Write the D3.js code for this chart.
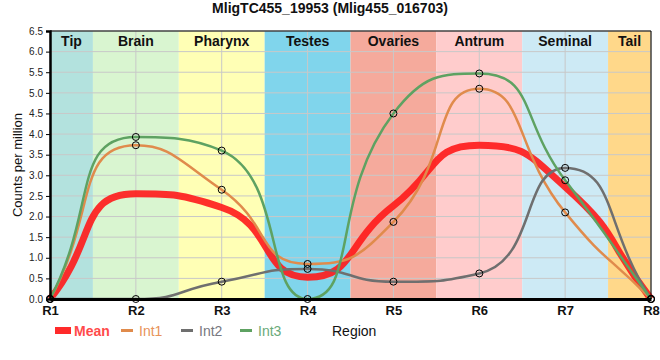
<!DOCTYPE html>
<html><head><meta charset="utf-8">
<script src="https://cdn.jsdelivr.net/npm/d3@7"></script>
<style>body{margin:0;background:#fff}</style>
</head><body>
<svg id="c" width="660" height="360"></svg>
<script>
const title = "MligTC455_19953 (Mlig455_016703)";
const regions = ["R1","R2","R3","R4","R5","R6","R7","R8"];
const bandNames = ["Tip","Brain","Pharynx","Testes","Ovaries","Antrum","Seminal","Tail"];
const bandColors = ["#b3e2de","#d9f5d0","#ffffb5","#80d5ec","#f5aa9c","#ffcccc","#cdeaf5","#ffd88a"];
const meanVals = [0, 2.55, 2.22, 0.53, 2.26, 3.73, 2.72, 0];
const int1Vals = [0, 3.73, 2.65, 0.85, 1.87, 5.10, 2.10, 0];
const int2Vals = [0, 0.0, 0.42, 0.73, 0.42, 0.62, 3.18, 0];
const int3Vals = [0, 3.93, 3.60, 0.0, 4.50, 5.47, 2.88, 0];
const yTicks = [0,0.5,1,1.5,2,2.5,3,3.5,4,4.5,5,5.5,6,6.5];

const series = [
  {name:"Int1", vals:int1Vals, color:"#e08b4c", lw:2.5, text:"#e8935a"},
  {name:"Int2", vals:int2Vals, color:"#6f6f6f", lw:2.5, text:"#77777f"},
  {name:"Int3", vals:int3Vals, color:"#5ea262", lw:2.5, text:"#6aaa7a"},
];

const svg = d3.select("#c");
const W=660,H=360, L=50, R=651, T=31, B=299;
const NARROW = "'Liberation Sans Narrow','Arial Narrow',sans-serif";
const x = d3.scalePoint().domain(regions).range([L,R]);
const step = x.step();
const y = d3.scaleLinear().domain([0,6.5]).range([B,T]);

// tension spline (pixel-space, distance-weighted) with flat tangents at extrema
function tensionCurve(context){
  let pts;
  const tension = 0.55;
  const cap = (v,a,b)=>Math.max(a,Math.min(b,v));
  return {
    areaStart(){}, areaEnd(){},
    lineStart(){ pts=[]; },
    point(px,py){ pts.push([px,py]); },
    lineEnd(){
      const n = pts.length; if(!n) return;
      const cps = pts.map((p,i)=>{
        const prev = pts[Math.max(0,i-1)], next = pts[Math.min(n-1,i+1)];
        const d01 = Math.hypot(p[0]-prev[0], p[1]-prev[1]);
        const d12 = Math.hypot(next[0]-p[0], next[1]-p[1]);
        let s01 = d01/(d01+d12), s12 = d12/(d01+d12);
        if(isNaN(s01)) s01=0; if(isNaN(s12)) s12=0;
        const fa = tension*s01, fb = tension*s12;
        const ddx = next[0]-prev[0];
        let ddy = next[1]-prev[1];
        if(i>0 && i<n-1){
          if((p[1]-prev[1])*(next[1]-p[1]) <= 0) ddy = 0;
          else {
            let k = 1;
            const pyC = p[1]-fa*ddy, nyC = p[1]+fb*ddy;
            if((pyC-prev[1])*(p[1]-prev[1]) < 0) k = Math.min(k, (prev[1]-p[1])/(pyC-p[1]));
            if((nyC-next[1])*(p[1]-next[1]) < 0) k = Math.min(k, (next[1]-p[1])/(nyC-p[1]));
            ddy *= k;
          }
        }
        return {
          px: cap(p[0]-fa*ddx,L,R), py: cap(p[1]-fa*ddy,T,B),
          nx: cap(p[0]+fb*ddx,L,R), ny: cap(p[1]+fb*ddy,T,B)
        };
      });
      context.moveTo(pts[0][0],pts[0][1]);
      for(let i=1;i<n;i++){
        context.bezierCurveTo(cps[i-1].nx,cps[i-1].ny,cps[i].px,cps[i].py,pts[i][0],pts[i][1]);
      }
    }
  };
}

const bandEdges = (i)=>[Math.max(L, x(regions[i]) - step/2), Math.min(R, x(regions[i]) + step/2)];
bandNames.forEach((b,i)=>{
  const [left,right] = bandEdges(i);
  svg.append("rect").attr("x",left).attr("y",T).attr("width",right-left).attr("height",B-T).attr("fill",bandColors[i]);
});
svg.append("g").selectAll("line").data(yTicks).join("line")
  .attr("x1",L).attr("x2",R).attr("y1",d=>y(d)).attr("y2",d=>y(d))
  .attr("stroke","#c8c8c8").attr("stroke-width",1);
svg.append("g").selectAll("line").data(regions).join("line")
  .attr("x1",d=>x(d)).attr("x2",d=>x(d)).attr("y1",T).attr("y2",B)
  .attr("stroke","#c8c8c8").attr("stroke-width",1);

svg.append("g").selectAll("text").data(bandNames).join("text")
  .attr("x",(d,i)=>{const e=bandEdges(i);return (e[0]+e[1])/2;}).attr("y",T+15)
  .attr("text-anchor","middle").attr("font-family",NARROW).attr("font-weight","bold")
  .attr("font-size",14).attr("fill","#111").text(d=>d);

const line = d3.line().x((d,i)=>x(regions[i])).y(d=>y(d)).curve(tensionCurve);

svg.append("path").attr("d",line(meanVals)).attr("fill","none")
  .attr("stroke","#ff1a1a").attr("stroke-opacity",0.9).attr("stroke-width",7);
series.forEach(s=>{
  svg.append("path").attr("d",line(s.vals)).attr("fill","none")
    .attr("stroke",s.color).attr("stroke-width",s.lw);
});
series.forEach(s=>{
  svg.append("g").selectAll("circle").data(s.vals).join("circle")
    .attr("cx",(d,i)=>x(regions[i])).attr("cy",d=>y(d)).attr("r",3.5)
    .attr("fill","none").attr("stroke","#000").attr("stroke-width",1);
});

svg.append("line").attr("x1",L).attr("x2",R).attr("y1",T).attr("y2",T).attr("stroke","#000").attr("stroke-width",1);
svg.append("line").attr("x1",R).attr("x2",R).attr("y1",T).attr("y2",B).attr("stroke","#000").attr("stroke-width",1);

const yAxis = d3.axisLeft(y).tickValues(yTicks).tickFormat(d3.format(".1f")).tickSize(4);
const gy = svg.append("g").attr("transform",`translate(${L},0)`).call(yAxis);
gy.select(".domain").attr("stroke","#000").attr("stroke-width",2.5);
gy.selectAll(".tick line").attr("stroke","#000");
gy.selectAll("text").attr("font-family","'Liberation Sans',Arial,sans-serif").attr("font-size",10).attr("fill","#222");

const xAxis = d3.axisBottom(x).tickSize(0).tickPadding(7);
const gx = svg.append("g").attr("transform",`translate(0,${B})`).call(xAxis);
gx.select(".domain").attr("stroke","#000").attr("stroke-width",3);
gx.selectAll("text").attr("font-family",NARROW).attr("font-weight","bold").attr("font-size",13).attr("fill","#111");

svg.append("text").attr("x",W/2).attr("y",13).attr("text-anchor","middle")
  .attr("font-family",NARROW).attr("font-weight","bold").attr("font-size",14).attr("fill","#111").text(title);
svg.append("text").attr("transform",`translate(22,${(T+B)/2}) rotate(-90)`).attr("text-anchor","middle")
  .attr("font-family","'Liberation Sans',Arial,sans-serif").attr("font-size",13).attr("fill","#111").text("Counts per million");
svg.append("text").attr("x",332).attr("y",336).attr("font-family",NARROW)
  .attr("font-size",14).attr("fill","#111").text("Region");

const lg = svg.append("g");
lg.append("rect").attr("x",55).attr("y",327).attr("width",16).attr("height",7).attr("fill","#ff2a2a");
lg.append("text").attr("x",74).attr("y",336).attr("font-family",NARROW).attr("font-weight","bold")
  .attr("font-size",14).attr("fill","#ff4a4a").text("Mean");
const lx = [121,181,240];
series.forEach((s,i)=>{
  lg.append("line").attr("x1",lx[i]).attr("x2",lx[i]+12).attr("y1",330.5).attr("y2",330.5)
    .attr("stroke",s.color).attr("stroke-width",3);
  lg.append("text").attr("x",lx[i]+18).attr("y",336).attr("font-family",NARROW)
    .attr("font-size",14).attr("fill",s.text).text(s.name);
});
</script>
</body></html>
